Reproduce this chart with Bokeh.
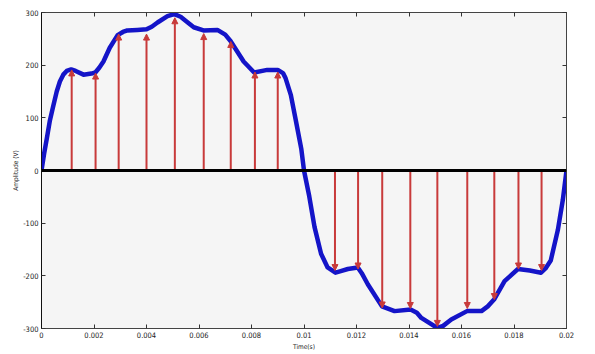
from bokeh.plotting import figure
from bokeh.models import (Range1d, LinearAxis, FixedTicker, Arrow, NormalHead,
                          ColumnDataSource, Span)
from bokeh.embed import file_html
from bokeh.resources import INLINE

# ---- data ----
t_curve = [0.0, 0.0001, 0.0002, 0.00032, 0.00045, 0.00058, 0.0007, 0.00083,
           0.00096, 0.00113, 0.0013, 0.0016, 0.0019, 0.00205,
           0.0022, 0.00236, 0.0026, 0.0029, 0.0031, 0.00327, 0.00365, 0.0040,
           0.0042, 0.00442, 0.0048, 0.00506, 0.0053, 0.0055, 0.0058, 0.00617,
           0.0067, 0.0070, 0.0072, 0.0077, 0.0081, 0.0086, 0.0090, 0.0092,
           0.0093, 0.0095, 0.0097, 0.0099, 0.0100,
           0.0102, 0.0104, 0.01065, 0.0109, 0.0112, 0.0114, 0.01167, 0.01205,
           0.0122, 0.01243, 0.01297, 0.01345, 0.01406, 0.0143, 0.01447, 0.01508,
           0.0153, 0.01561, 0.01621, 0.01676, 0.0170, 0.01724, 0.01764, 0.01815,
           0.0186, 0.01903, 0.0192, 0.0194, 0.01967, 0.01986, 0.0200]
v_curve = [0, 32, 60, 95, 123, 150, 169, 182,
           189, 192, 189, 182, 184, 186,
           195, 207, 233, 257, 263, 266, 267, 268,
           273, 281, 293, 297, 292, 284, 272, 266,
           267, 258, 246, 207, 186, 191, 191, 185,
           175, 143, 92, 40, 0,
           -49, -107, -158, -184, -194, -191, -187, -184,
           -195, -216, -258, -267, -264, -270, -280, -299,
           -295, -283, -267, -267, -258, -245, -210, -187,
           -190, -194, -186, -171, -113, -56, 0]

t_stem = [0.00115, 0.00206, 0.00294, 0.0040, 0.00508, 0.00618, 0.00721,
          0.00813, 0.0090,
          0.01118, 0.01206, 0.01298, 0.01405, 0.01508, 0.01622, 0.01725,
          0.01817, 0.01905]
v_stem = [191, 185, 259, 259, 290, 260, 245, 187, 187,
          -190, -187, -261, -262, -296, -262, -245, -187, -190]

x_ticks = [0, 0.002, 0.004, 0.006, 0.008, 0.01, 0.012, 0.014, 0.016, 0.018, 0.02]
x_tick_labels = ["0", "0.002", "0.004", "0.006", "0.008", "0.01", "0.012",
                 "0.014", "0.016", "0.018", "0.02"]
y_ticks = [-300, -200, -100, 0, 100, 200, 300]
y_tick_labels = ["-300", "-200", "-100", "0", "100", "200", "300"]

x_label = "Time(s)"
y_label = "Amplitude (V)"

# ---- styling ----
FONT = "'DejaVu Sans Condensed', 'Liberation Sans Narrow', 'DejaVu Sans', sans-serif"
RED = "#c83a3a"
BLUE = "#1414c8"

p = figure(width=594, height=353, output_backend="svg", toolbar_location=None,
           x_range=Range1d(0, 0.02), y_range=Range1d(-300, 300),
           x_axis_location=None, y_axis_location=None,
           min_border_left=41, min_border_right=28, min_border_top=12,
           min_border_bottom=22)
p.background_fill_color = "#f5f5f5"
p.border_fill_color = "#ffffff"
p.outline_line_color = "#555555"
p.grid.visible = False

def style_axis(ax, ticks, labels):
    ax.ticker = FixedTicker(ticks=ticks)
    ax.major_tick_in = 4
    ax.major_tick_out = 0
    ax.minor_tick_line_color = None
    ax.axis_line_color = "#444444"
    ax.major_tick_line_color = "#333333"
    ax.major_label_text_font = FONT
    ax.major_label_text_color = "#222222"
    ax.major_label_text_font_size = "7.5px"
    ax.major_label_standoff = 3
    ax.major_label_overrides = {t: s for t, s in zip(ticks, labels)}
    ax.axis_label_text_font = FONT
    ax.axis_label_text_font_size = "6.5px"
    ax.axis_label_text_font_style = "normal"
    ax.axis_label_text_color = "#222222"

xb = LinearAxis(axis_label=x_label)
style_axis(xb, x_ticks, x_tick_labels)
xb.axis_label_standoff = 2
p.add_layout(xb, "below")

yl = LinearAxis(axis_label=y_label)
style_axis(yl, y_ticks, y_tick_labels)
yl.axis_line_color = "#111111"
yl.axis_label_standoff = 0
p.add_layout(yl, "left")

xa = LinearAxis()
style_axis(xa, x_ticks, [""] * len(x_ticks))
xa.major_label_standoff = 0
p.add_layout(xa, "above")

yr = LinearAxis()
style_axis(yr, y_ticks, [""] * len(y_ticks))
yr.major_label_standoff = 0
p.add_layout(yr, "right")

# curve
p.line(t_curve, v_curve, line_color=BLUE, line_width=4.5, line_join="round")

# arrows (stems)
src = ColumnDataSource(dict(x0=t_stem, y0=[0] * len(t_stem), x1=t_stem, y1=v_stem))
p.add_layout(Arrow(source=src, x_start="x0", y_start="y0", x_end="x1", y_end="y1",
                   line_color=RED, line_width=2,
                   end=NormalHead(size=6, fill_color=RED, line_color=RED)))

# zero line
p.add_layout(Span(location=0, dimension="width", line_color="#000000", line_width=3))

open("out.html", "w").write(file_html(p, INLINE))
